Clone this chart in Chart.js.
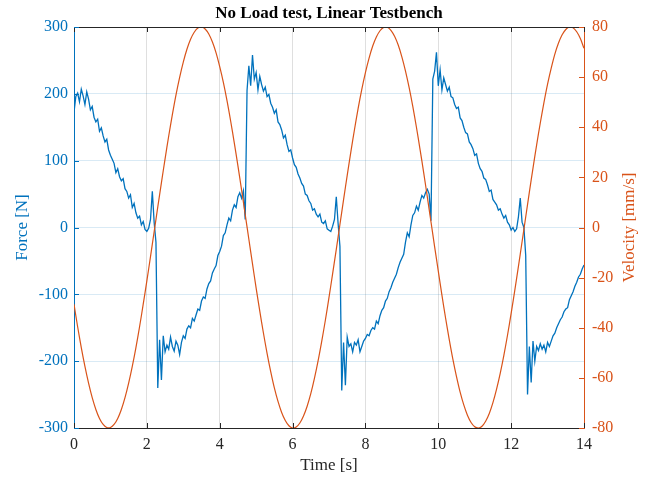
<!DOCTYPE html>
<html>
<head>
<meta charset="utf-8">
<script src="https://cdn.jsdelivr.net/npm/chart.js@4.4.1/dist/chart.umd.min.js"></script>
<style>
  html, body { margin: 0; padding: 0; background: #ffffff; }
  canvas { display: block; }
</style>
</head>
<body>
<canvas id="c" width="649" height="480"></canvas>
<script>
// ---- labels ----
const titleText = 'No Load test, Linear Testbench';
const timeLabel = 'Time [s]';
const forceLabel = 'Force [N]';
const velocityLabel = 'Velocity [mm/s]';

// ---- tick values ----
const timeTicks = [0, 2, 4, 6, 8, 10, 12, 14];
const forceTicks = [-300, -200, -100, 0, 100, 200, 300];
const velocityTicks = [-80, -60, -40, -20, 0, 20, 40, 60, 80];

// ---- measured force [N], one sample every 0.05 s from 0 to 14 s ----
const forceStep = 0.05;
const forceValues = [
  172, 196, 201, 188, 207, 197, 184, 203, 192, 176, 181, 165, 158, 162, 144, 149, 137, 128, 132, 116,
  108, 102, 96, 82, 88, 76, 70, 73, 58, 54, 44, 49, 30, 36, 22, 14, 17, 4, 9, -3,
  -6, -1, 12, 54, 8, -22, -240, -168, -228, -162, -186, -176, -182, -164, -178, -185, -170, -176, -190, -172,
  -162, -166, -152, -147, -150, -136, -140, -131, -122, -124, -110, -104, -106, -92, -84, -80, -68, -62, -57, -42,
  -36, -28, -12, -8, 4, 14, 10, 26, 34, 30, 46, 52, 44, 55, 12, 205, 242, 212, 258, 222,
  232, 206, 226, 214, 204, 210, 196, 199, 186, 180, 171, 176, 158, 154, 146, 134, 138, 124, 114, 116,
  104, 94, 90, 80, 74, 66, 62, 50, 48, 40, 36, 26, 28, 20, 16, 20, 8, 6, 10, -2,
  -4, -6, 2, 12, 46, 6, -28, -244, -172, -236, -164, -178, -174, -186, -172, -176, -168, -186, -178, -170,
  -166, -160, -162, -154, -150, -152, -140, -144, -132, -124, -120, -110, -106, -96, -90, -82, -76, -70, -60, -52,
  -46, -40, -22, -8, -14, 4, 18, 22, 32, 26, 38, 48, 44, 52, 57, 50, 10, 222, 234, 262,
  212, 236, 206, 224, 214, 204, 210, 196, 194, 184, 178, 180, 164, 160, 150, 142, 140, 128, 124, 118,
  108, 110, 96, 88, 84, 74, 72, 64, 54, 56, 42, 38, 34, 26, 28, 20, 14, 18, 8, 4,
  -4, 0, -6, -2, 16, 44, 8, 0, -42, -250, -178, -232, -170, -200, -178, -184, -174, -182, -176, -186,
  -172, -178, -170, -162, -158, -150, -144, -138, -134, -126, -122, -120, -108, -102, -96, -88, -82, -74, -70, -62, -56
];

// ---- commanded velocity [mm/s], one sample every 0.1 s from 0 to 14 s ----
const velocityStep = 0.1;
const velocityValues = [
  -30.6, -39.6, -47.9, -55.4, -62.1, -67.9, -72.6, -76.2, -78.6, -79.8,
  -79.8, -78.6, -76.2, -72.6, -67.9, -62.1, -55.4, -47.9, -39.6, -30.6,
  -21.3, -11.6, -1.7, 8.2, 17.9, 27.4, 36.5, 45.0, 52.9, 59.9,
  66.0, 71.1, 75.1, 77.9, 79.6, 80.0, 79.2, 77.2, 74.0, 69.7,
  64.2, 57.9, 50.6, 42.5, 33.8, 24.6, 15.0, 5.2, -4.7, -14.5,
  -24.2, -33.4, -42.1, -50.2, -57.5, -64.0, -69.4, -73.8, -77.0, -79.1,
  -80.0, -79.6, -78.0, -75.2, -71.3, -66.3, -60.2, -53.2, -45.4, -37.0,
  -27.9, -18.4, -8.7, 1.2, 11.1, 20.8, 30.2, 39.1, 47.5, 55.1,
  61.8, 67.6, 72.4, 76.0, 78.5, 79.8, 79.9, 78.7, 76.3, 72.8,
  68.1, 62.4, 55.8, 48.3, 40.0, 31.1, 21.8, 12.1, 2.2, -7.7,
  -17.4, -27.0, -36.1, -44.6, -52.5, -59.5, -65.7, -70.8, -74.9, -77.8,
  -79.5, -80.0, -79.3, -77.3, -74.2, -69.9, -64.5, -58.2, -51.0, -43.0,
  -34.3, -25.1, -15.5, -5.7, 4.2, 14.1, 23.7, 33.0, 41.7, 49.8,
  57.2, 63.6, 69.2, 73.6, 76.9, 79.0, 80.0, 79.7, 78.1, 75.4,
  71.5
];

// ---- styling ----
const BLUE = '#0072BD';
const ORANGE = '#D95319';
const AXIS = '#262626';
const SERIF = "'Liberation Serif', 'Times New Roman', serif";

const forcePoints = forceValues.map((f, i) => ({ x: +(i * forceStep).toFixed(2), y: f }));
const velocityPoints = velocityValues.map((v, i) => ({ x: +(i * velocityStep).toFixed(1), y: v }));

function fixedTicks(list) {
  return function (scale) { scale.ticks = list.map(v => ({ value: v })); };
}

// Inward tick marks, the top frame line and the right-hand axis title
const frameDecor = {
  id: 'frameDecor',
  afterDraw(chart) {
    const { ctx, chartArea: a, scales } = chart;
    const len = 5;
    ctx.save();
    ctx.lineWidth = 1;

    ctx.strokeStyle = AXIS;
    ctx.beginPath();
    ctx.moveTo(a.left, Math.round(a.top) + 0.5);
    ctx.lineTo(a.right, Math.round(a.top) + 0.5);
    scales.x.ticks.forEach(t => {
      const px = Math.round(scales.x.getPixelForValue(t.value)) + 0.5;
      ctx.moveTo(px, a.bottom);
      ctx.lineTo(px, a.bottom - len);
      ctx.moveTo(px, a.top);
      ctx.lineTo(px, a.top + len);
    });
    ctx.stroke();

    ctx.strokeStyle = BLUE;
    ctx.beginPath();
    scales.y.ticks.forEach(t => {
      const py = Math.round(scales.y.getPixelForValue(t.value)) + 0.5;
      ctx.moveTo(a.left, py);
      ctx.lineTo(a.left + len, py);
    });
    ctx.stroke();

    ctx.strokeStyle = ORANGE;
    ctx.beginPath();
    scales.y1.ticks.forEach(t => {
      const py = Math.round(scales.y1.getPixelForValue(t.value)) + 0.5;
      ctx.moveTo(a.right, py);
      ctx.lineTo(a.right - len, py);
    });
    ctx.stroke();

    // right axis title, reading bottom to top
    ctx.fillStyle = ORANGE;
    ctx.font = '17px ' + SERIF;
    ctx.textAlign = 'center';
    ctx.textBaseline = 'middle';
    ctx.translate(scales.y1.right - 19, (a.top + a.bottom) / 2);
    ctx.rotate(-Math.PI / 2);
    ctx.fillText(velocityLabel, 0, 0);
    ctx.restore();
  }
};

new Chart(document.getElementById('c'), {
  type: 'line',
  data: {
    datasets: [
      {
        label: 'Velocity',
        data: velocityPoints,
        yAxisID: 'y1',
        borderColor: ORANGE,
        borderWidth: 1.2,
        pointRadius: 0,
        tension: 0.35,
        fill: false
      },
      {
        label: 'Force',
        data: forcePoints,
        yAxisID: 'y',
        borderColor: BLUE,
        borderWidth: 1.3,
        pointRadius: 0,
        tension: 0,
        fill: false
      }
    ]
  },
  options: {
    responsive: false,
    animation: false,
    events: [],
    layout: { padding: 0 },
    plugins: {
      legend: { display: false },
      tooltip: { enabled: false },
      title: {
        display: true,
        text: titleText,
        color: '#000000',
        fullSize: false,
        font: { family: SERIF, size: 17, weight: 'bold', lineHeight: 1.2 },
        padding: { top: 3, bottom: 3.6 }
      }
    },
    scales: {
      x: {
        type: 'linear',
        min: 0,
        max: 14,
        afterBuildTicks: fixedTicks(timeTicks),
        afterFit(s) { s.height = 52; },
        ticks: { color: AXIS, font: { family: SERIF, size: 16 }, padding: 7, maxRotation: 0, autoSkip: false },
        grid: { color: 'rgba(38,38,38,0.15)', lineWidth: 1, drawTicks: false },
        border: { color: AXIS, width: 1 },
        title: { display: true, text: timeLabel, color: AXIS, font: { family: SERIF, size: 17, lineHeight: 1.2 }, padding: { top: 4, bottom: 4 } }
      },
      y: {
        type: 'linear',
        position: 'left',
        min: -300,
        max: 300,
        afterBuildTicks: fixedTicks(forceTicks),
        afterFit(s) { s.width = 74; },
        ticks: { color: BLUE, font: { family: SERIF, size: 16 }, padding: 6, autoSkip: false },
        grid: { color: 'rgba(0,114,189,0.15)', lineWidth: 1, drawTicks: false },
        border: { color: BLUE, width: 1 },
        title: { display: true, text: forceLabel, color: BLUE, font: { family: SERIF, size: 17, lineHeight: 1.2 }, padding: { top: 12, bottom: 4 } }
      },
      y1: {
        type: 'linear',
        position: 'right',
        min: -80,
        max: 80,
        afterBuildTicks: fixedTicks(velocityTicks),
        afterFit(s) { s.width = 65; },
        ticks: { color: ORANGE, font: { family: SERIF, size: 16 }, padding: 8, autoSkip: false },
        grid: { drawOnChartArea: false, drawTicks: false },
        border: { color: ORANGE, width: 1 },
        title: { display: false }
      }
    }
  },
  plugins: [frameDecor]
});
</script>
</body>
</html>
